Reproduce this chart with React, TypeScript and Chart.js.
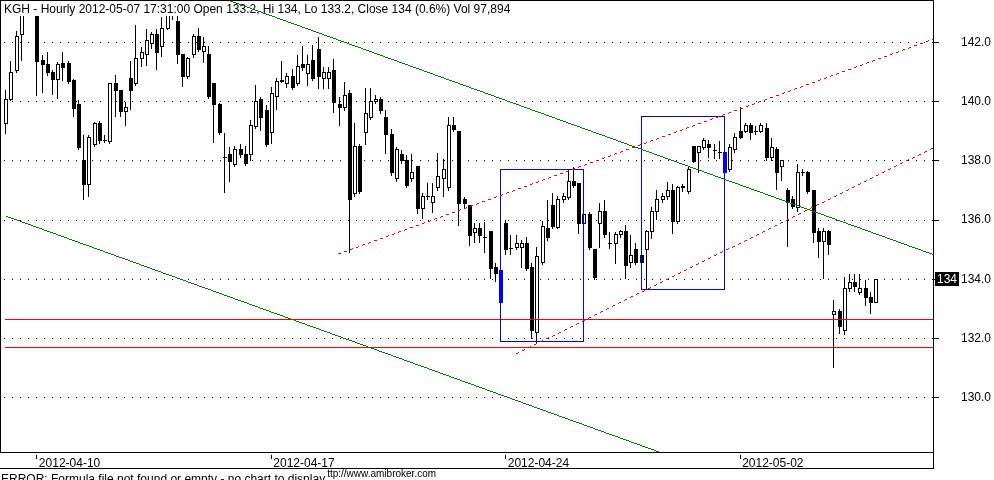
import React, { useEffect, useRef } from 'react';
import { Chart, registerables } from 'chart.js';

Chart.register(...registerables);

// ---------- data ----------
const OPEN = [
  139.27, 140.09, 141.07, 142.28, 143.05, 143.25, 143.1, 141.38, 141.27, 140.97,
  140.75, 141.29, 141.29, 140.71, 139.9, 138.01, 137.19, 138.57, 139.28, 138.68,
  138.66, 140.6, 140.39, 139.67, 140.77, 140.6, 141.47, 141.58, 141.97, 142.28,
  141.87, 142.49, 143.0, 142.7, 141.58, 140.85, 141.58, 142.19, 141.69, 141.59,
  140.6, 139.89, 138.12, 138.21, 137.88, 138.37, 138.21, 138.21, 139.17, 140.09,
  139.7, 138.96, 140.18, 140.68, 140.6, 140.85, 140.6, 141.27, 140.95, 141.38,
  141.78, 140.77, 140.77, 141.07, 139.9, 139.79, 140.29, 136.89, 138.48, 138.96,
  139.47, 140.0, 140.09, 139.47, 138.88, 137.39, 138.21, 138.01, 137.39, 137.81,
  136.38, 136.8, 136.58, 137.09, 137.39, 137.09, 139.19, 138.99, 136.68, 136.49,
  135.59, 135.71, 135.4, 135.62, 134.41, 134.3, 135.88, 135.03, 135.09, 135.09,
  135.2, 134.41, 132.2, 134.58, 135.71, 136.49, 135.76, 136.68, 136.77, 137.3,
  137.22, 135.88, 136.19, 135.0, 135.88, 136.29, 135.2, 135.2, 135.5, 135.62,
  134.58, 135.01, 134.81, 135.0, 135.62, 136.29, 136.68, 136.8, 136.99, 135.95,
  137.09, 136.97, 138.48, 138.27, 138.46, 138.57, 138.35, 138.27, 138.27, 137.7,
  138.37, 138.99, 138.99, 139.19, 138.99, 138.99, 139.08, 138.1, 138.37, 137.81,
  136.99, 136.69, 136.43, 137.6, 137.6, 136.99, 135.62, 135.29, 135.62, 132.82,
  132.92, 132.28, 133.68, 133.89, 133.57, 133.68, 133.38, 133.2,
];
const HIGH = [
  140.37, 141.35, 142.37, 143.2, 143.35, 143.4, 143.2, 141.55, 141.66, 141.05,
  141.33, 141.66, 141.35, 140.75, 140.03, 138.85, 138.85, 139.3, 139.34, 138.85,
  140.6, 140.88, 140.39, 139.98, 141.35, 142.56, 141.83, 142.45, 142.35, 142.45,
  142.84, 143.15, 143.2, 143.0, 141.58, 141.5, 142.26, 142.49, 142.17, 141.87,
  140.6, 139.95, 138.94, 138.46, 138.48, 138.55, 138.5, 139.36, 140.56, 140.15,
  139.87, 140.48, 140.77, 141.35, 140.95, 141.1, 141.55, 141.85, 141.55, 141.89,
  142.17, 141.16, 141.16, 141.44, 140.15, 140.65, 140.37, 139.27, 138.55, 140.46,
  140.46, 140.2, 140.15, 139.7, 139.06, 138.46, 138.35, 138.18, 138.21, 137.81,
  136.89, 137.24, 137.22, 138.24, 138.04, 139.45, 139.45, 139.0, 136.75, 136.5,
  135.88, 135.88, 135.93, 135.62, 134.53, 134.3, 135.99, 135.48, 135.48, 135.31,
  135.4, 134.55, 135.07, 135.96, 136.66, 136.89, 136.81, 136.89, 137.7, 137.78,
  137.22, 136.2, 136.27, 135.0, 136.57, 136.66, 135.59, 135.59, 135.65, 135.82,
  135.48, 135.2, 134.9, 135.65, 136.44, 136.99, 136.9, 137.26, 137.19, 137.15,
  137.2, 137.78, 138.5, 138.5, 138.76, 138.68, 138.54, 138.66, 138.3, 138.55,
  138.91, 139.79, 139.25, 139.25, 139.15, 139.25, 139.28, 138.75, 138.46, 138.03,
  137.06, 136.8, 137.88, 137.7, 137.65, 137.0, 135.71, 135.71, 135.65, 133.29,
  132.99, 134.07, 134.17, 134.17, 134.17, 133.95, 133.55, 134.0,
];
const LOW = [
  138.91, 140.05, 140.99, 141.38, 142.95, 143.0, 140.2, 140.31, 140.88, 140.23,
  140.11, 140.71, 140.6, 139.5, 138.4, 136.69, 136.81, 138.5, 138.6, 138.63,
  138.6, 139.49, 139.5, 139.21, 139.72, 140.55, 141.19, 141.21, 141.8, 141.1,
  141.52, 142.45, 142.79, 141.29, 140.52, 140.8, 141.5, 141.7, 141.31, 140.1,
  138.61, 138.9, 136.92, 137.31, 137.82, 138.1, 137.85, 138.03, 139.1, 139.02,
  138.5, 138.59, 139.73, 140.65, 140.48, 140.4, 140.54, 141.05, 140.54, 140.7,
  140.46, 140.46, 140.46, 139.64, 139.21, 139.7, 134.92, 136.8, 136.9, 138.57,
  139.4, 139.95, 139.6, 138.24, 137.5, 137.3, 137.9, 137.09, 137.3, 136.21,
  136.04, 136.7, 136.27, 137.0, 136.8, 137.0, 139.0, 135.82, 136.4, 135.14,
  135.23, 135.23, 134.92, 134.02, 133.91, 133.2, 134.83, 134.83, 135.0, 134.41,
  134.3, 132.0, 131.83, 134.5, 135.3, 135.7, 135.7, 136.6, 136.7, 137.11,
  135.54, 135.8, 135.0, 134.0, 135.09, 135.4, 135.03, 134.53, 135.4, 134.02,
  134.41, 134.5, 134.5, 133.68, 135.37, 136.01, 136.6, 136.7, 135.54, 135.9,
  136.95, 136.9, 137.95, 137.62, 138.4, 138.12, 138.07, 138.07, 137.55, 137.65,
  138.3, 138.75, 138.95, 138.71, 138.9, 138.95, 138.03, 138.0, 137.02, 137.34,
  135.12, 136.4, 136.3, 137.5, 136.9, 135.23, 134.73, 134.02, 134.84, 131.02,
  132.16, 132.13, 133.6, 133.6, 133.5, 133.12, 132.84, 133.2,
];
const CLOSE = [
  140.09, 140.97, 142.19, 143.05, 143.25, 143.1, 141.35, 141.27, 140.97, 140.75,
  141.27, 141.16, 140.68, 139.77, 138.46, 137.19, 138.8, 139.28, 138.68, 138.68,
  140.6, 140.39, 139.67, 139.79, 140.37, 141.47, 141.66, 142.08, 142.28, 141.66,
  142.47, 143.0, 143.05, 141.58, 140.85, 141.47, 142.19, 141.78, 141.87, 140.18,
  139.89, 138.96, 138.12, 137.99, 138.37, 138.2, 137.9, 139.19, 140.0, 139.47,
  138.57, 140.29, 140.68, 140.7, 140.85, 140.48, 141.18, 141.16, 141.27, 140.77,
  140.85, 140.97, 140.97, 139.98, 139.79, 140.2, 136.68, 138.48, 136.97, 139.59,
  140.0, 140.09, 139.7, 138.88, 137.6, 138.38, 138.01, 137.17, 137.6, 136.38,
  136.8, 136.8, 136.8, 137.48, 137.7, 139.19, 139.06, 136.57, 136.57, 135.48,
  135.71, 135.48, 135.4, 134.38, 134.19, 133.2, 135.0, 135.03, 135.2, 135.2,
  134.38, 132.28, 134.78, 135.78, 135.4, 135.78, 136.68, 136.8, 137.3, 137.17,
  135.88, 136.19, 135.09, 134.07, 136.29, 135.5, 135.2, 135.5, 135.62, 134.47,
  134.81, 134.58, 134.58, 135.62, 136.29, 136.68, 136.8, 136.99, 135.96, 137.09,
  137.15, 137.7, 137.99, 138.48, 138.68, 138.46, 138.35, 138.27, 137.6, 138.46,
  138.78, 138.78, 139.19, 138.96, 138.99, 139.19, 138.1, 138.46, 137.6, 138.01,
  136.6, 136.46, 137.6, 137.6, 136.97, 135.59, 135.29, 135.62, 135.18, 132.92,
  132.39, 133.68, 133.89, 133.77, 133.68, 133.38, 133.21, 134.0,
];
const DATE_TICKS = [6, 51, 96, 141];
const DATE_LABELS = ['2012-04-10', '2012-04-17', '2012-04-24', '2012-05-02'];
const PRICE_TICKS = [130, 132, 134, 136, 138, 140, 142];
const LAST_PRICE = 134;
const MARKED_BARS = [95, 138];
const H_LINES = [132.642, 131.696];
// [barStart, priceTop, barEnd, priceBottom]
const BOXES = [
  [95, 137.7, 111, 131.91],
  [122, 139.49, 138, 133.65],
];
// [bar0, price0, bar1, price1]
const GREEN_LINES = [
  [40, 143.6, 178, 134.84],
  [0, 136.14, 140, 127.24],
];
const RED_LINES = [
  [63.8, 134.85, 177.9, 142.1],
  [97.8, 131.46, 177.9, 138.43],
];
const TITLE =
  'KGH - Hourly 2012-05-07 17:31:00 Open 133.2, Hi 134, Lo 133.2, Close 134 (0.6%) Vol 97,894';
const ERROR_TEXT = 'ERROR: Formula file not found or empty - no chart to display';
const URL_TEXT = 'http://www.amibroker.com';

// ---------- layout ----------
const FONT = "'Liberation Sans', Arial, sans-serif";
const X_MIN = -1.075;
const X_MAX = 178.02;
const Y_MIN = 128.166;
const Y_MAX = 143.436;

function pixLine(
  ctx: CanvasRenderingContext2D,
  x0: number, y0: number, x1: number, y1: number,
  a: { left: number; right: number; top: number; bottom: number },
  on: number, off: number,
) {
  const slope = (y1 - y0) / (x1 - x0);
  const start = Math.ceil(x0);
  const xs = Math.max(start, a.left);
  const xe = Math.min(Math.floor(x1), a.right - 1);
  for (let xp = xs; xp <= xe; xp++) {
    if (off > 0 && (xp - start) % (on + off) >= on) continue;
    const yp = Math.floor(y0 + (xp + 0.5 - x0) * slope);
    if (yp < a.top || yp >= a.bottom) continue;
    ctx.fillRect(xp, yp, 1, 1);
  }
}

const overlayPlugin = {
  id: 'amiOverlay',
  afterDatasetsDraw(chart: any) {
    const { ctx, chartArea: a, scales } = chart;
    const x = scales.x;
    const y = scales.y;
    const area = { left: Math.round(a.left), right: Math.round(a.right), top: Math.round(a.top), bottom: Math.round(a.bottom) };

    // candles
    ctx.save();
    ctx.beginPath();
    ctx.rect(a.left, a.top, a.right - a.left, a.bottom - a.top);
    ctx.clip();
    for (let i = 0; i < OPEN.length; i++) {
      const o = OPEN[i], h = HIGH[i], l = LOW[i], c = CLOSE[i];
      const cx = Math.floor(x.getPixelForValue(i));
      const yh = Math.floor(y.getPixelForValue(h));
      const yl = Math.floor(y.getPixelForValue(l));
      const yt = Math.floor(y.getPixelForValue(Math.max(o, c)));
      const yb = Math.floor(y.getPixelForValue(Math.min(o, c)));
      ctx.fillStyle = '#000';
      ctx.fillRect(cx, yh, 1, yl - yh + 1);
      if (yb - yt < 1) {
        ctx.fillRect(cx - 1, yt, 4, 1);
      } else if (c > o) {
        ctx.fillStyle = '#fff';
        ctx.fillRect(cx - 1, yt, 4, yb - yt + 1);
        ctx.strokeStyle = '#000';
        ctx.lineWidth = 1;
        ctx.strokeRect(cx - 0.5, yt + 0.5, 3, yb - yt);
      } else {
        ctx.fillStyle = MARKED_BARS.includes(i) ? '#0000ff' : '#000';
        ctx.fillRect(cx - 1, yt, 4, yb - yt + 1);
      }
    }
    ctx.restore();

    // title band
    ctx.save();
    ctx.fillStyle = '#fff';
    ctx.fillRect(area.left + 1, area.top + 1, area.right - area.left - 1, 15);
    ctx.fillStyle = '#000';
    ctx.font = `12px ${FONT}`;
    ctx.textBaseline = 'alphabetic';
    ctx.textAlign = 'left';
    ctx.fillText(TITLE, 4, 13);
    ctx.restore();

    // horizontal lines
    ctx.save();
    ctx.fillStyle = '#ff0000';
    const hx0 = Math.floor(x.getPixelForValue(0));
    H_LINES.forEach((v) => {
      const yy = Math.floor(y.getPixelForValue(v));
      ctx.fillRect(hx0, yy, area.right - hx0, 1);
    });
    ctx.restore();

    // boxes
    ctx.save();
    ctx.strokeStyle = '#0000ff';
    ctx.lineWidth = 1;
    BOXES.forEach(([b0, pTop, b1, pBot]) => {
      const xl = Math.floor(x.getPixelForValue(b0));
      const xr = Math.floor(x.getPixelForValue(b1));
      const yt = Math.floor(y.getPixelForValue(pTop));
      const yb = Math.floor(y.getPixelForValue(pBot));
      ctx.strokeRect(xl + 0.5, yt + 0.5, xr - xl, yb - yt);
    });
    ctx.restore();

    // trend lines
    ctx.save();
    ctx.fillStyle = '#008000';
    GREEN_LINES.forEach(([b0, p0, b1, p1]) => {
      pixLine(ctx, x.getPixelForValue(b0), y.getPixelForValue(p0), x.getPixelForValue(b1), y.getPixelForValue(p1), area, 1, 0);
    });
    ctx.fillStyle = '#ff0000';
    RED_LINES.forEach(([b0, p0, b1, p1]) => {
      pixLine(ctx, x.getPixelForValue(b0), y.getPixelForValue(p0), x.getPixelForValue(b1), y.getPixelForValue(p1), area, 3, 3);
    });
    ctx.restore();

    // frame
    ctx.save();
    ctx.fillStyle = '#000';
    ctx.fillRect(area.left, area.top, area.right - area.left + 1, 1);
    ctx.fillRect(area.left, area.top, 1, area.bottom - area.top);
    ctx.fillRect(area.left, area.bottom + 16, area.right - area.left + 1, 1);
    ctx.fillRect(area.right, area.bottom, 1, 17);
    DATE_TICKS.forEach((b) => {
      const tx = Math.floor(x.getPixelForValue(b));
      ctx.fillRect(tx, area.bottom + 3, 1, 4);
    });
    ctx.restore();

    // last price marker
    ctx.save();
    const ly = Math.floor(y.getPixelForValue(LAST_PRICE));
    ctx.fillStyle = '#000';
    ctx.fillRect(area.right + 2, ly - 7, 24, 14);
    ctx.fillStyle = '#fff';
    ctx.font = `12px ${FONT}`;
    ctx.textAlign = 'center';
    ctx.textBaseline = 'middle';
    ctx.fillText(String(LAST_PRICE), area.right + 14, ly + 0.5);
    ctx.restore();

    // bottom texts
    ctx.save();
    ctx.font = `12px ${FONT}`;
    const ew = ctx.measureText(ERROR_TEXT).width;
    ctx.font = `10px ${FONT}`;
    const hw = ctx.measureText('h').width;
    ctx.fillStyle = '#000';
    ctx.textBaseline = 'alphabetic';
    ctx.fillText(URL_TEXT, 1 + ew + 2 - hw, 477);
    ctx.fillStyle = '#fff';
    ctx.fillRect(0, area.bottom + 17, 1 + ew + 2, 480 - area.bottom - 17);
    ctx.fillStyle = '#000';
    ctx.font = `12px ${FONT}`;
    ctx.fillText(ERROR_TEXT, 1, 483);
    ctx.restore();
  },
};

export default function App() {
  const canvasRef = useRef<HTMLCanvasElement | null>(null);

  useEffect(() => {
    const canvas = canvasRef.current;
    if (!canvas) return;
    const chart = new Chart(canvas, {
      type: 'line',
      data: {
        datasets: [
          {
            label: 'KGH close',
            data: CLOSE.map((c, i) => ({ x: i, y: c })),
            showLine: false,
            pointRadius: 0,
            pointHoverRadius: 0,
          },
        ],
      },
      options: {
        responsive: false,
        devicePixelRatio: 1,
        animation: false,
        events: [],
        layout: { padding: { left: 0, right: 0, top: 0, bottom: 12 } },
        plugins: {
          legend: { display: false },
          tooltip: { enabled: false },
          title: { display: false },
        },
        scales: {
          x: {
            type: 'linear',
            position: 'bottom',
            min: X_MIN,
            max: X_MAX,
            grid: { display: false },
            border: { display: true, color: '#000', width: 1 },
            ticks: {
              autoSkip: false,
              maxRotation: 0,
              minRotation: 0,
              align: 'start',
              labelOffset: 2,
              padding: -4,
              color: '#000',
              font: { family: FONT, size: 12 },
              callback: (v: any) => {
                const k = DATE_TICKS.indexOf(Number(v));
                return k >= 0 ? DATE_LABELS[k] : '';
              },
            },
            afterBuildTicks: (s: any) => {
              s.ticks = DATE_TICKS.map((v) => ({ value: v }));
            },
            afterFit: (s: any) => {
              s.height = 16;
              s.paddingLeft = 0;
              s.paddingRight = 0;
              s.paddingTop = 0;
              s.paddingBottom = 0;
            },
          },
          y: {
            type: 'linear',
            position: 'right',
            min: Y_MIN,
            max: Y_MAX,
            grid: {
              display: true,
              color: '#000',
              lineWidth: 1,
              drawTicks: true,
              tickLength: 6,
              tickColor: '#000',
              tickWidth: 1,
            },
            border: { display: true, color: '#000', width: 1, dash: [1, 7], dashOffset: 4 },
            ticks: {
              color: '#000',
              padding: 22,
              font: { family: FONT, size: 12 },
              callback: (v: any) => Number(v).toFixed(1),
            },
            afterBuildTicks: (s: any) => {
              s.ticks = PRICE_TICKS.map((v) => ({ value: v }));
            },
            afterFit: (s: any) => {
              s.width = 61;
              s.paddingLeft = 0;
              s.paddingRight = 0;
              s.paddingTop = 0;
              s.paddingBottom = 0;
            },
          },
        },
      },
      plugins: [overlayPlugin],
    } as any);
    return () => chart.destroy();
  }, []);

  return (
    <div style={{ position: 'fixed', left: 0, top: 0, width: 994, height: 480, background: '#fff' }}>
      <canvas ref={canvasRef} width={994} height={480} style={{ display: 'block', width: 994, height: 480 }} />
    </div>
  );
}
